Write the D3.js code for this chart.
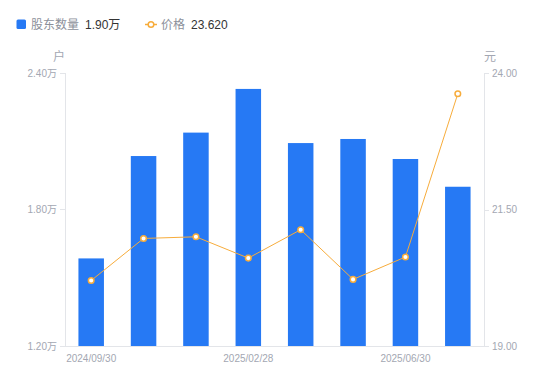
<!DOCTYPE html>
<html>
<head>
<meta charset="utf-8">
<script src="https://cdn.jsdelivr.net/npm/d3@7"></script>
<style>
  body { margin: 0; background: #fff; }
  svg { display: block; font-family: "Liberation Sans", "Noto Sans CJK SC", sans-serif; }
</style>
</head>
<body>
<svg id="chart" width="550" height="381"></svg>
<script>
// 数据
const dates = ["2024/09/30", "2024/10/31", "2024/12/31", "2025/02/28", "2025/03/31", "2025/04/30", "2025/06/30", "2025/07/31"];
const holders = [1.585, 2.035, 2.138, 2.330, 2.092, 2.110, 2.022, 1.90]; // 万户
const prices = [20.20, 20.97, 21.00, 20.61, 21.13, 20.22, 20.63, 23.62]; // 元
const leftTicks = [1.2, 1.8, 2.4];
const rightTicks = [19, 21.5, 24];
const shownDates = ["2024/09/30", "2025/02/28", "2025/06/30"];

const barColor = "#2679f4";
const lineColor = "#f7ac3b";
const axisColor = "#e3e5e9";
const labelColor = "#a3a7b2";

const svg = d3.select("#chart");
const plot = { left: 65, right: 484, top: 73, bottom: 346 };

const x = d3.scaleBand().domain(dates).range([plot.left, plot.right]).padding(0);
const yL = d3.scaleLinear().domain([1.2, 2.4]).range([plot.bottom, plot.top]);
const yR = d3.scaleLinear().domain([19, 24]).range([plot.bottom, plot.top]);
const barW = x.bandwidth() * 0.487;
const cx = d => x(d) + x.bandwidth() / 2;

// 坐标轴线
svg.append("line").attr("x1", plot.left + 0.5).attr("x2", plot.left + 0.5).attr("y1", plot.top).attr("y2", plot.bottom)
    .attr("stroke", axisColor);
svg.append("line").attr("x1", plot.right + 0.5).attr("x2", plot.right + 0.5).attr("y1", plot.top).attr("y2", plot.bottom)
    .attr("stroke", axisColor);

// 左轴
const gl = svg.append("g");
leftTicks.forEach(t => {
    gl.append("line").attr("x1", plot.left - 5).attr("x2", plot.left).attr("y1", Math.round(yL(t)) + 0.5).attr("y2", Math.round(yL(t)) + 0.5)
        .attr("stroke", axisColor);
    gl.append("text").attr("x", plot.left - 8).attr("y", yL(t)).attr("dy", "0.35em")
        .attr("text-anchor", "end").attr("font-size", 10).attr("fill", labelColor)
        .text(t.toFixed(2) + "万");
});

// 右轴
const gr = svg.append("g");
rightTicks.forEach(t => {
    gr.append("line").attr("x1", plot.right).attr("x2", plot.right + 5).attr("y1", Math.round(yR(t)) + 0.5).attr("y2", Math.round(yR(t)) + 0.5)
        .attr("stroke", axisColor);
    gr.append("text").attr("x", plot.right + 8).attr("y", yR(t)).attr("dy", "0.35em")
        .attr("text-anchor", "start").attr("font-size", 10).attr("fill", labelColor)
        .text(t.toFixed(2));
});

// 单位
svg.append("text").attr("x", plot.left - 6).attr("y", 57).attr("dy", "0.35em").attr("text-anchor", "middle")
    .attr("font-size", 12).attr("fill", labelColor).text("户");
svg.append("text").attr("x", plot.right + 6).attr("y", 57).attr("dy", "0.35em").attr("text-anchor", "middle")
    .attr("font-size", 12).attr("fill", labelColor).text("元");

// 柱子
svg.append("g").selectAll("rect")
    .data(holders)
    .join("rect")
    .attr("x", (d, i) => cx(dates[i]) - barW / 2)
    .attr("width", barW)
    .attr("y", d => yL(d))
    .attr("height", d => plot.bottom - yL(d))
    .attr("fill", barColor);

// 底部轴线
svg.append("line").attr("x1", plot.left - 5).attr("x2", plot.right + 5).attr("y1", plot.bottom + 0.5).attr("y2", plot.bottom + 0.5)
    .attr("stroke", axisColor);

// x 轴标签
svg.append("g").selectAll("text")
    .data(shownDates)
    .join("text")
    .attr("x", d => cx(d))
    .attr("y", 358)
    .attr("dy", "0.35em")
    .attr("text-anchor", "middle")
    .attr("font-size", 10)
    .attr("fill", labelColor)
    .text(d => d);

// 价格折线
const line = d3.line()
    .x((d, i) => cx(dates[i]))
    .y(d => yR(d));

svg.append("path")
    .datum(prices)
    .attr("fill", "none")
    .attr("stroke", lineColor)
    .attr("stroke-width", 1)
    .attr("d", line);

svg.append("g").selectAll("circle")
    .data(prices)
    .join("circle")
    .attr("cx", (d, i) => cx(dates[i]))
    .attr("cy", d => yR(d))
    .attr("r", 2.8)
    .attr("fill", "#fff")
    .attr("stroke", lineColor)
    .attr("stroke-width", 1.5);

// 图例
const lg = svg.append("g");
lg.append("rect").attr("x", 16.5).attr("y", 19.5).attr("width", 9.5).attr("height", 9.5).attr("rx", 1.5)
    .attr("fill", barColor);
lg.append("text").attr("x", 31).attr("y", 24.5).attr("dy", "0.35em").attr("font-size", 12)
    .attr("fill", "#8c909a").text("股东数量");
lg.append("text").attr("x", 85).attr("y", 24.5).attr("dy", "0.35em").attr("font-size", 12)
    .attr("fill", "#333").text(holders[holders.length - 1].toFixed(2) + "万");

lg.append("line").attr("x1", 145).attr("x2", 157).attr("y1", 24.5).attr("y2", 24.5)
    .attr("stroke", lineColor).attr("stroke-width", 1.5);
lg.append("circle").attr("cx", 151).attr("cy", 24.5).attr("r", 2.8)
    .attr("fill", "#fff").attr("stroke", lineColor).attr("stroke-width", 1.5);
lg.append("text").attr("x", 161).attr("y", 24.5).attr("dy", "0.35em").attr("font-size", 12)
    .attr("fill", "#8c909a").text("价格");
lg.append("text").attr("x", 191).attr("y", 24.5).attr("dy", "0.35em").attr("font-size", 12)
    .attr("fill", "#333").text(prices[prices.length - 1].toFixed(3));
</script>
</body>
</html>
